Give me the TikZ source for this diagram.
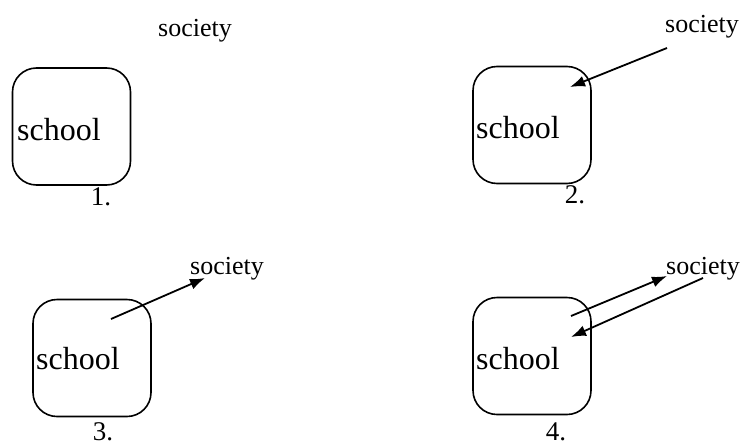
\documentclass[tikz,border=0pt]{standalone}
\usepackage{fontspec}
\setmainfont{Liberation Serif}
\usetikzlibrary{arrows.meta}
\begin{document}
\begin{tikzpicture}[x=1pt,y=-1pt,
  box/.style={draw,line width=1.6pt,rounded corners=24pt,minimum width=118pt,minimum height=117pt,inner sep=0pt},
  schooltxt/.style={anchor=base west,inner sep=0pt,font=\fontsize{32}{36}\selectfont},
  soc/.style={inner sep=0pt,font=\fontsize{26}{30}\selectfont},
  num/.style={inner sep=0pt,font=\fontsize{27}{30}\selectfont},
  arr/.style={line width=1.8pt,-{Latex[length=15pt,width=11pt]}}]
\useasboundingbox (0,0) rectangle (746,447);
% panel 1
\node[box] (b1) at (71.5,126.5) {};
\node[schooltxt] (s1) at (17,140) {school};
\node[num] (n1) at (101,197) {1.};
\node[soc] (c1) at (195,31) {society};
% panel 2
\node[box] (b2) at (532,125) {};
\node[schooltxt] (s2) at (476,138) {school};
\node[num] (n2) at (575,195) {2.};
\node[soc] (c2) at (702,27) {society};
\coordinate (a2s) at (667,48);
\coordinate (a2e) at (570,87);
\draw[arr] (a2s) -- (a2e);
% panel 3
\node[box] (b3) at (92,358) {};
\node[schooltxt] (s3) at (36,369) {school};
\node[num] (n3) at (103,432) {3.};
\node[soc] (c3) at (227,269) {society};
\coordinate (a3s) at (111,319);
\coordinate (a3e) at (205,278);
\draw[arr] (a3s) -- (a3e);
% panel 4
\node[box] (b4) at (532,356) {};
\node[schooltxt] (s4) at (476,369) {school};
\node[num] (n4) at (556,432) {4.};
\node[soc] (c4) at (703,269) {society};
\coordinate (a4s) at (571,316);
\coordinate (a4e) at (667,276);
\coordinate (a5s) at (703,278);
\coordinate (a5e) at (571,337);
\draw[arr] (a4s) -- (a4e);
\draw[arr] (a5s) -- (a5e);
\end{tikzpicture}
\end{document}
